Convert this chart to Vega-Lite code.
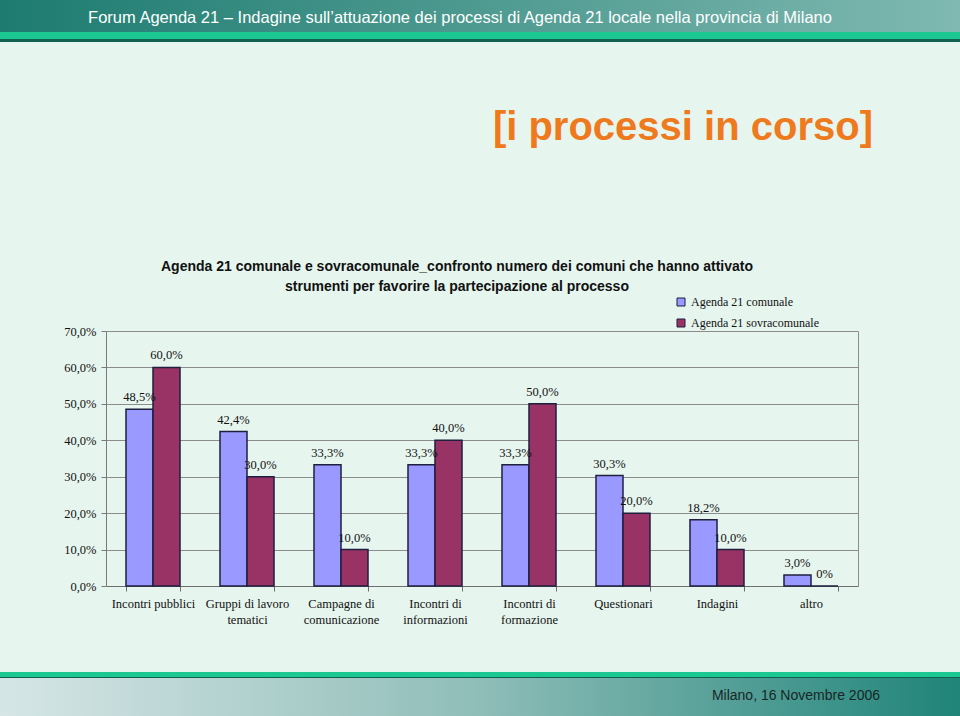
{
  "$schema": "https://vega.github.io/schema/vega-lite/v6.json",
  "padding": 0,
  "background": "#E6F5EE",
  "spacing": 112,
  "config": {
    "locale": {"number": {"decimal": ",", "thousands": ".", "grouping": [3], "currency": ["", " €"]}},
    "view": {"stroke": null},
    "title": {"font": "Liberation Sans"}
  },
  "vconcat": [
    {
      "spacing": 0,
      "vconcat": [
        {
          "width": 960,
          "height": 32,
          "data": {"values": [{}]},
          "mark": {"type": "rect", "color": {"gradient": "linear", "x1": 0, "y1": 0, "x2": 1, "y2": 0, "stops": [{"offset": 0, "color": "#1D7B70"}, {"offset": 1, "color": "#7FB9B1"}]}},
          "encoding": {},
          "title": {"text": "Forum Agenda 21 – Indagine sull’attuazione dei processi di Agenda 21 locale nella provincia di Milano", "orient": "bottom", "anchor": "middle", "frame": "group", "dx": -20, "offset": -22, "fontSize": 16.5, "fontWeight": "normal", "color": "#FFFFFF"}
        },
        {
          "width": 960,
          "height": 10,
          "data": {"values": [{}]},
          "mark": {"type": "rect", "color": {"gradient": "linear", "x1": 0, "y1": 0, "x2": 0, "y2": 1, "stops": [{"offset": 0, "color": "#1CC891"}, {"offset": 0.72, "color": "#1CC891"}, {"offset": 0.72, "color": "#12604F"}, {"offset": 1, "color": "#12604F"}]}},
          "encoding": {},
          "title": {"text": "[i processi in corso]", "orient": "bottom", "anchor": "end", "frame": "group", "dx": -87, "offset": 66, "fontSize": 40, "fontWeight": "bold", "color": "#EF7A1E"}
        }
      ]
    },
    {
      "spacing": 0,
      "vconcat": [
        {
          "width": 858,
          "height": 255,
          "title": {"text": ["Agenda 21 comunale e sovracomunale_confronto numero dei comuni che hanno attivato", "strumenti per favorire la partecipazione al processo"], "anchor": "middle", "frame": "group", "dx": 28, "offset": 31, "fontSize": 14, "fontWeight": "bold", "lineHeight": 20, "color": "#111111"},
          "data": {"values": [
            {"cat": "Incontri pubblici", "serie": "Agenda 21 comunale", "v": 0.485, "label": "48,5%"},
            {"cat": "Incontri pubblici", "serie": "Agenda 21 sovracomunale", "v": 0.6, "label": "60,0%"},
            {"cat": "Gruppi di lavoro tematici", "serie": "Agenda 21 comunale", "v": 0.424, "label": "42,4%"},
            {"cat": "Gruppi di lavoro tematici", "serie": "Agenda 21 sovracomunale", "v": 0.3, "label": "30,0%"},
            {"cat": "Campagne di comunicazione", "serie": "Agenda 21 comunale", "v": 0.333, "label": "33,3%"},
            {"cat": "Campagne di comunicazione", "serie": "Agenda 21 sovracomunale", "v": 0.1, "label": "10,0%"},
            {"cat": "Incontri di informazioni", "serie": "Agenda 21 comunale", "v": 0.333, "label": "33,3%"},
            {"cat": "Incontri di informazioni", "serie": "Agenda 21 sovracomunale", "v": 0.4, "label": "40,0%"},
            {"cat": "Incontri di formazione", "serie": "Agenda 21 comunale", "v": 0.333, "label": "33,3%"},
            {"cat": "Incontri di formazione", "serie": "Agenda 21 sovracomunale", "v": 0.5, "label": "50,0%"},
            {"cat": "Questionari", "serie": "Agenda 21 comunale", "v": 0.303, "label": "30,3%"},
            {"cat": "Questionari", "serie": "Agenda 21 sovracomunale", "v": 0.2, "label": "20,0%"},
            {"cat": "Indagini", "serie": "Agenda 21 comunale", "v": 0.182, "label": "18,2%"},
            {"cat": "Indagini", "serie": "Agenda 21 sovracomunale", "v": 0.1, "label": "10,0%"},
            {"cat": "altro", "serie": "Agenda 21 comunale", "v": 0.03, "label": "3,0%"},
            {"cat": "altro", "serie": "Agenda 21 sovracomunale", "v": 0, "label": "0%"}
          ]},
          "encoding": {
            "x": {
              "field": "cat", "type": "nominal", "sort": null,
              "scale": {"range": [106, 858], "paddingInner": 0.4255, "paddingOuter": 0.2128},
              "axis": {
                "title": null, "labelAngle": 0, "grid": false,
                "domainColor": "#6E6E6E", "tickColor": "#6E6E6E", "tickBand": "extent", "tickSize": 5,
                "labelFont": "Liberation Serif", "labelFontSize": 12.5, "labelColor": "#111111",
                "labelLineHeight": 16, "labelPadding": 6, "labelBaseline": "top", "labelLimit": 200,
                "minExtent": 86,
                "labelExpr": "datum.value == 'Gruppi di lavoro tematici' ? ['Gruppi di lavoro', 'tematici'] : datum.value == 'Campagne di comunicazione' ? ['Campagne di', 'comunicazione'] : datum.value == 'Incontri di informazioni' ? ['Incontri di', 'informazioni'] : datum.value == 'Incontri di formazione' ? ['Incontri di', 'formazione'] : datum.label"
              }
            },
            "xOffset": {"field": "serie", "type": "nominal", "sort": ["Agenda 21 comunale", "Agenda 21 sovracomunale"], "scale": {"paddingInner": 0, "paddingOuter": 0}},
            "y": {
              "field": "v", "type": "quantitative",
              "scale": {"domain": [0, 0.7], "nice": false}
            }
          },
          "layer": [
            {
              "mark": {"type": "bar", "stroke": "#1F1F3F", "strokeWidth": 1.5},
              "encoding": {
                "y": {
                  "field": "v", "type": "quantitative",
                  "axis": {
                    "title": null, "orient": "left", "offset": -106, "values": [0, 0.1, 0.2, 0.3, 0.4, 0.5, 0.6, 0.7], "format": ".1%",
                    "gridColor": "#8C8C8C", "domainColor": "#7A7A7A", "tickColor": "#7A7A7A", "tickSize": 5,
                    "labelFont": "Liberation Serif", "labelFontSize": 12.5, "labelColor": "#111111", "labelPadding": 5
                  }
                },
                "color": {
                  "field": "serie", "type": "nominal",
                  "scale": {"domain": ["Agenda 21 comunale", "Agenda 21 sovracomunale"], "range": ["#9999FF", "#993366"]},
                  "legend": {
                    "title": null, "orient": "none", "legendX": 675, "legendY": 296, "padding": 0,
                    "symbolType": "square", "symbolSize": 64, "symbolStrokeColor": "#1F1F3F", "symbolStrokeWidth": 1,
                    "labelFont": "Liberation Serif", "labelFontSize": 12, "labelColor": "#111111", "labelOffset": 4, "rowPadding": 9
                  }
                }
              }
            },
            {
              "mark": {"type": "text", "baseline": "bottom", "dy": -5, "font": "Liberation Serif", "fontSize": 12.5, "color": "#111111"},
              "encoding": {
                "text": {"field": "label"},
                "y": {
                  "field": "v", "type": "quantitative",
                  "axis": {"title": null, "orient": "right", "labels": false, "ticks": false, "grid": false, "domainColor": "#8C8C8C"}
                }
              }
            }
          ],
          "resolve": {"axis": {"y": "independent"}}
        },
        {
          "spacing": 0,
          "vconcat": [
            {
              "width": 960,
              "height": 6,
              "data": {"values": [{}]},
              "mark": {"type": "rect", "color": {"gradient": "linear", "x1": 0, "y1": 0, "x2": 0, "y2": 1, "stops": [{"offset": 0, "color": "#1CC891"}, {"offset": 0.8, "color": "#1CC891"}, {"offset": 0.8, "color": "#12604F"}, {"offset": 1, "color": "#12604F"}]}},
              "encoding": {}
            },
            {
              "width": 960,
              "height": 38,
              "data": {"values": [{}]},
              "mark": {"type": "rect", "color": {"gradient": "linear", "x1": 0, "y1": 0, "x2": 1, "y2": 0, "stops": [{"offset": 0, "color": "#D6E6E6"}, {"offset": 0.5, "color": "#8FBDB8"}, {"offset": 1, "color": "#1F8479"}]}},
              "encoding": {},
              "title": {"text": "Milano, 16 Novembre 2006", "orient": "bottom", "anchor": "end", "frame": "group", "dx": -80, "offset": -27, "fontSize": 14, "fontWeight": "normal", "color": "#1A2626"}
            }
          ]
        }
      ]
    }
  ]
}
